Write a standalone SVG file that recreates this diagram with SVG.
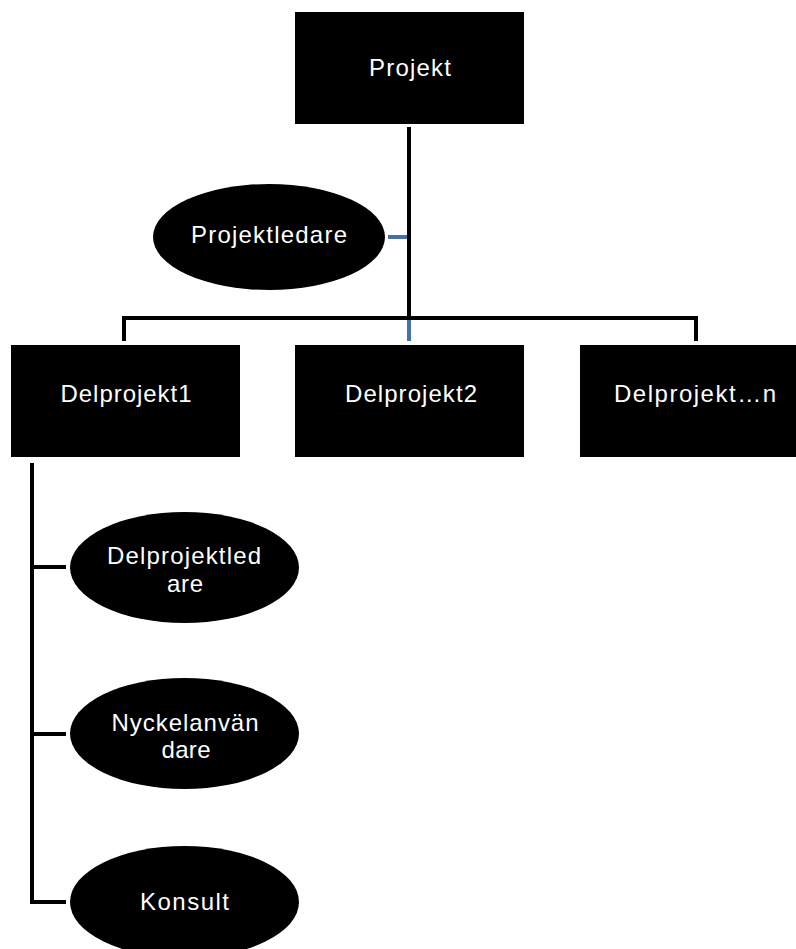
<svg xmlns="http://www.w3.org/2000/svg" width="796" height="949" viewBox="0 0 796 949">
<style>
.node{fill:#000}
.lbl{fill:#fff;font-family:"Liberation Sans",Arial,sans-serif;font-size:24px;text-anchor:middle}
.conn{stroke:#000;stroke-width:4;fill:none}
.blue{stroke:#4472A8;stroke-width:4;fill:none}
</style>
<rect width="796" height="949" fill="#fff"/>
<g id="connectors">
<path class="conn" d="M409,127 V318 M124,341 V318 H696 V341"/>
<path class="blue" d="M409,320 V341 M388,237 H407"/>
<path class="conn" d="M32,463 V902 H66 M32,567 H66 M32,734 H66"/>
</g>
<g id="projekt"><rect class="node" x="295" y="12" width="229" height="112"/><text class="lbl" x="410" y="76" textLength="82" lengthAdjust="spacing">Projekt</text></g>
<g id="projektledare"><ellipse class="node" cx="269" cy="237" rx="116" ry="53"/><text class="lbl" x="269" y="243" textLength="156" lengthAdjust="spacing">Projektledare</text></g>
<g id="delprojekt1"><rect class="node" x="11" y="345" width="229" height="112"/><text class="lbl" x="126" y="402" textLength="131" lengthAdjust="spacing">Delprojekt1</text></g>
<g id="delprojekt2"><rect class="node" x="295" y="345" width="229" height="112"/><text class="lbl" x="411" y="402" textLength="132" lengthAdjust="spacing">Delprojekt2</text></g>
<g id="delprojektn"><rect class="node" x="580" y="345" width="229" height="112"/><text class="lbl" x="695" y="402" textLength="162" lengthAdjust="spacing">Delprojekt…n</text></g>
<g id="delprojektledare"><ellipse class="node" cx="184.5" cy="567.5" rx="114.5" ry="55.5"/><text class="lbl" x="184" y="564" textLength="154" lengthAdjust="spacing">Delprojektled</text><text class="lbl" x="185" y="592" textLength="36" lengthAdjust="spacing">are</text></g>
<g id="nyckelanvandare"><ellipse class="node" cx="184.5" cy="733.5" rx="114.5" ry="55.5"/><text class="lbl" x="185" y="731" textLength="147" lengthAdjust="spacing">Nyckelanvän</text><text class="lbl" x="186" y="758" textLength="49" lengthAdjust="spacing">dare</text></g>
<g id="konsult"><ellipse class="node" cx="184.5" cy="902" rx="114.5" ry="56"/><text class="lbl" x="184.5" y="910" textLength="89" lengthAdjust="spacing">Konsult</text></g>
</svg>
